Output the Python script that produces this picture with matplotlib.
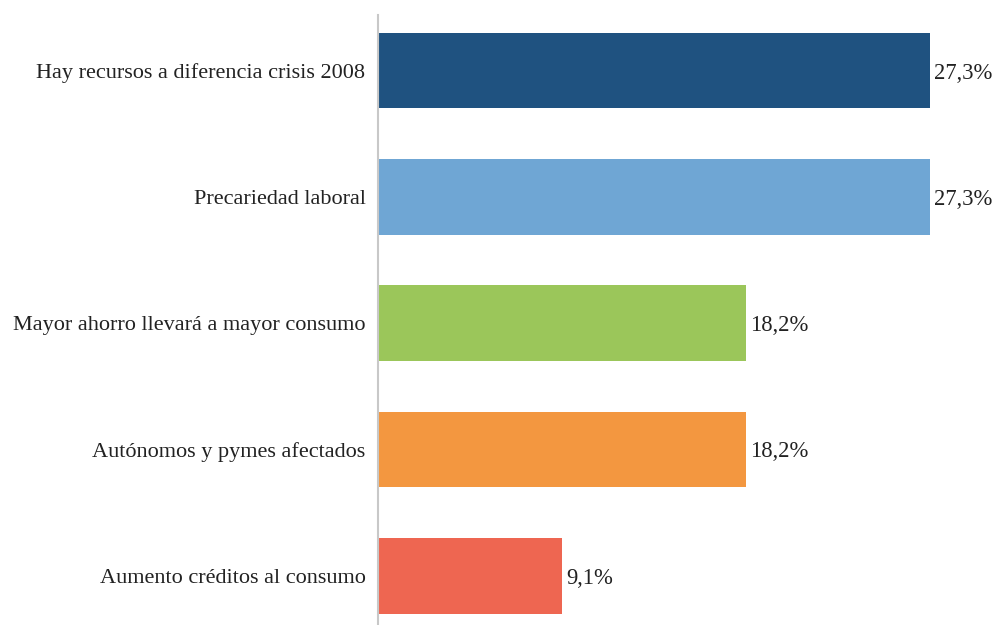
import matplotlib.pyplot as plt

categorias = ['Hay recursos a diferencia crisis 2008', 'Precariedad laboral',
              'Mayor ahorro llevará a mayor consumo', 'Autónomos y pymes afectados',
              'Aumento créditos al consumo']
valores = [27.3, 27.3, 18.2, 18.2, 9.1]
etiquetas = ['27,3%', '27,3%', '18,2%', '18,2%', '9,1%']
colores = ['#1F5280', '#6FA6D4', '#9BC65A', '#F39740', '#EE6651']

plt.rcParams['font.family'] = ['Liberation Serif', 'DejaVu Serif']

fig = plt.figure(figsize=(10, 6.25), dpi=100)
ax = fig.add_axes([0.378, 0.0, 0.622, 0.976])

pos = range(len(categorias))
ax.barh(pos, valores, height=0.6, color=colores)
for p, v, t in zip(pos, valores, etiquetas):
    ax.text(v + 0.22, p + 0.02, t, va='center', ha='left', fontsize=16.3, color='#222222')

ax.set_yticks(list(pos))
ax.set_yticklabels(categorias, fontsize=16, color='#222222')
ax.tick_params(axis='y', length=0, pad=9)
ax.set_xticks([])
ax.set_xlim(0, 30.76)
ax.set_ylim(4.39, -0.44)
for s in ['top', 'right', 'bottom']:
    ax.spines[s].set_visible(False)
ax.spines['left'].set_color('#C8C8C8')
ax.spines['left'].set_linewidth(1.5)

fig.savefig('out.png', dpi=100)
